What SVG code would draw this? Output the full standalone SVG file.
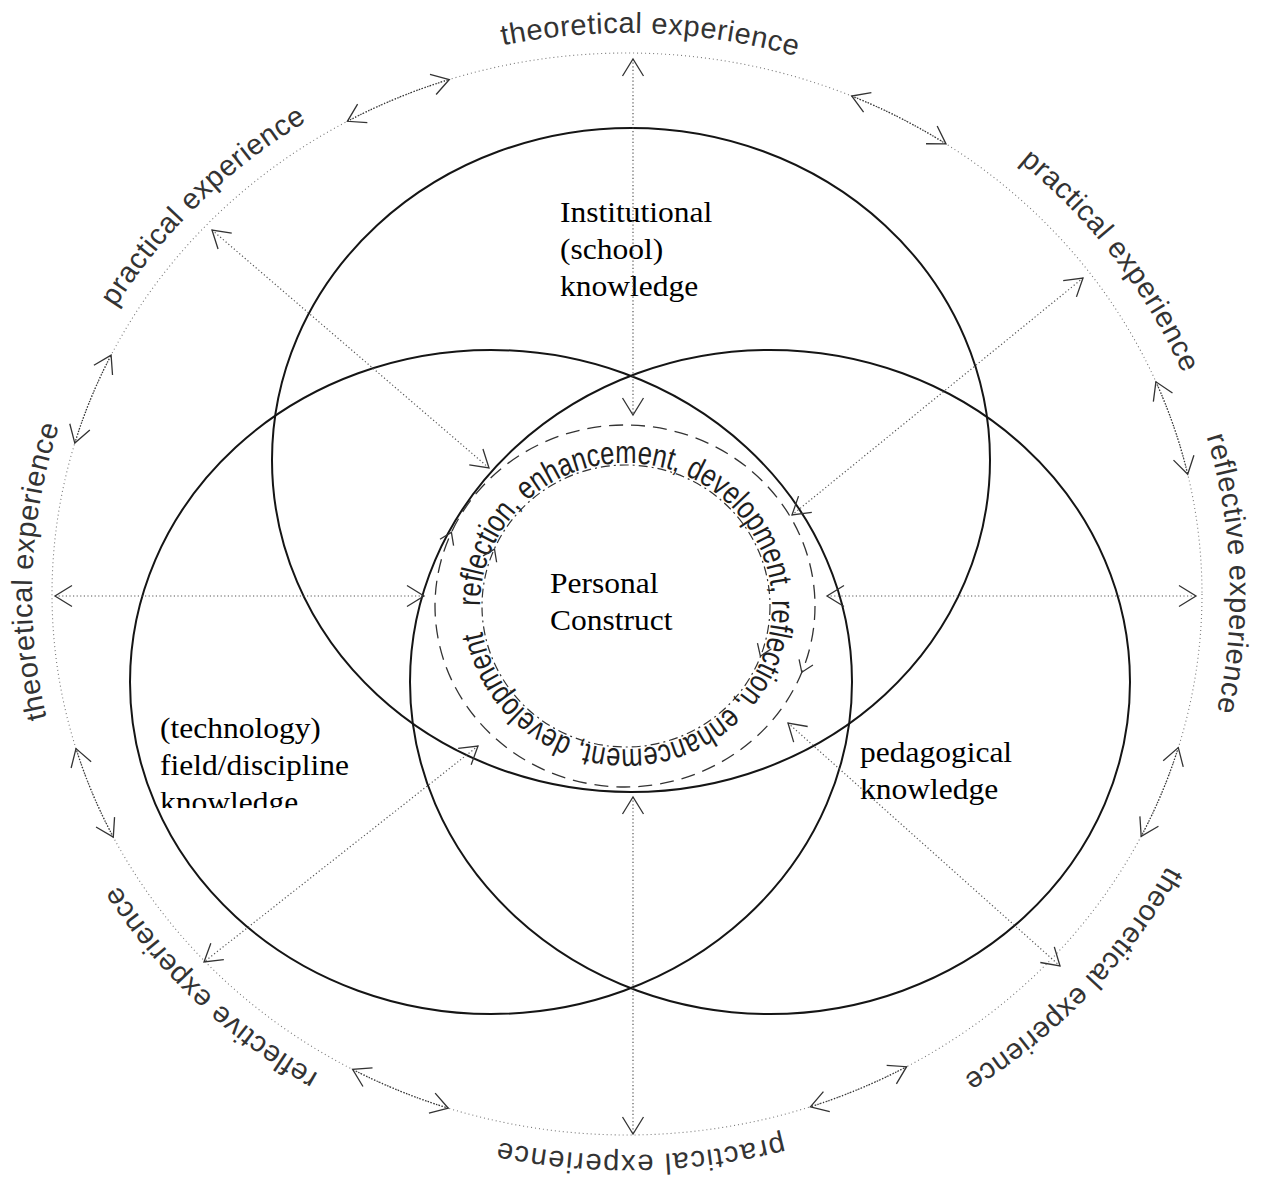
<svg xmlns="http://www.w3.org/2000/svg" width="1269" height="1183" viewBox="0 0 1269 1183">
<style>
.big{fill:none;stroke:#151515;stroke-width:2}
.outer{fill:none;stroke:#777;stroke-width:1.1;stroke-dasharray:1 3}
.conn{fill:none;stroke:#555;stroke-width:1.2;stroke-dasharray:1.2 2.4;marker-start:url(#chev);marker-end:url(#chev)}
.carc{fill:none;stroke:#333;stroke-width:1.3;stroke-dasharray:1.3 1.6;marker-start:url(#chev);marker-end:url(#chev)}
.dash{fill:none;stroke:#333;stroke-width:1.3;stroke-dasharray:14 8}
.dashdot{fill:none;stroke:#333;stroke-width:1.2;stroke-dasharray:9 4 2 4}
.rarrow{fill:none;stroke:none;marker-end:url(#chev2)}
.lab{font-family:"Liberation Sans",Arial,sans-serif;font-size:29px;fill:#333;letter-spacing:0.6px}
.ring{font-family:"Liberation Sans",Arial,sans-serif;font-size:32px;fill:#1e1e1e}
.serif{font-family:"Liberation Serif","Times New Roman",serif;font-size:31.5px;fill:#000}
</style>
<defs>
<marker id="chev" markerUnits="userSpaceOnUse" markerWidth="40" markerHeight="40" viewBox="-20 -20 40 40" refX="0" refY="0" orient="auto-start-reverse" overflow="visible">
<path d="M -17 -10.5 L 0 0 L -17 10.5" fill="none" stroke="#333" stroke-width="1.3"/>
</marker>
<marker id="chev2" markerUnits="userSpaceOnUse" markerWidth="30" markerHeight="30" viewBox="-15 -15 30 30" refX="0" refY="0" orient="auto" overflow="visible">
<path d="M -11 -7.5 L 0 0 L -11 7.5" fill="none" stroke="#333" stroke-width="1.3"/>
</marker>
<path id="lp1" d="M 263.2 150.1 A 595 561 0 0 1 1027.6 179.1"/>
<path id="lp2" d="M 778.0 43.1 A 603 569 0 0 1 1228.1 638.7"/>
<path id="lp3" d="M 1075.1 213.3 A 603 569 0 0 1 1102.2 944.3"/>
<path id="lp4" d="M 1238.7 612.1 A 612 578 0 0 1 714.3 1166.1"/>
<path id="lp5" d="M 1019.9 1015.3 A 595 561 0 0 1 255.0 1031.8"/>
<path id="lp6" d="M 568.9 1152.3 A 595 561 0 0 1 33.7 637.0"/>
<path id="lp7" d="M 156.2 937.1 A 595 561 0 0 1 186.9 216.4"/>
<path id="lp8" d="M 33.1 559.8 A 595 561 0 0 1 559.6 36.6"/>
<path id="ringpath" d="M 480 606 A 146 143 0 1 1 772 606 A 146 143 0 1 1 480 606"/>
<clipPath id="clipTech"><rect x="100" y="680" width="320" height="128"/></clipPath>
<clipPath id="clipPed"><rect x="820" y="700" width="300" height="105"/></clipPath>
</defs>

<rect x="0" y="0" width="1269" height="1183" fill="#fff"/>

<g id="outer-ring">
<ellipse class="outer" cx="627" cy="594" rx="575" ry="541"/>
<text class="lab"><textPath href="#lp1" startOffset="50%" text-anchor="middle">theoretical experience</textPath></text>
<text class="lab"><textPath href="#lp2" startOffset="50%" text-anchor="middle">practical experience</textPath></text>
<text class="lab"><textPath href="#lp3" startOffset="50%" text-anchor="middle">reflective experience</textPath></text>
<text class="lab"><textPath href="#lp4" startOffset="50%" text-anchor="middle">theoretical experience</textPath></text>
<text class="lab" style="letter-spacing:1.5px"><textPath href="#lp5" startOffset="50%" text-anchor="middle">practical experience</textPath></text>
<text class="lab"><textPath href="#lp6" startOffset="50%" text-anchor="middle">reflective experience</textPath></text>
<text class="lab"><textPath href="#lp7" startOffset="50%" text-anchor="middle">theoretical experience</textPath></text>
<text class="lab"><textPath href="#lp8" startOffset="50%" text-anchor="middle">practical experience</textPath></text>
</g>

<g id="node-institutional">
<ellipse class="big" cx="631" cy="460" rx="359" ry="332"/>
<g transform="translate(560,222) scale(1,0.92)">
<text class="serif"><tspan x="0" y="0">Institutional</tspan><tspan x="0" dy="40.2">(school)</tspan><tspan x="0" dy="40.2">knowledge</tspan></text>
</g>
</g>

<g id="node-technology">
<ellipse class="big" cx="491" cy="682" rx="361" ry="332"/>
<g clip-path="url(#clipTech)">
<g transform="translate(160,738) scale(1,0.92)">
<text class="serif"><tspan x="0" y="0">(technology)</tspan><tspan x="0" dy="40.2">field/discipline</tspan><tspan x="0" dy="40.2">knowledge</tspan></text>
</g>
</g>
</g>

<g id="node-pedagogical">
<ellipse class="big" cx="770" cy="682" rx="360" ry="332"/>
<g clip-path="url(#clipPed)">
<g transform="translate(860,762) scale(1,0.92)">
<text class="serif"><tspan x="0" y="0">pedagogical</tspan><tspan x="0" dy="40.2">knowledge</tspan></text>
</g>
</g>
</g>

<g id="node-personal">
<ellipse class="dash" cx="625" cy="606" rx="190" ry="181"/>
<ellipse class="dashdot" cx="626" cy="606" rx="144" ry="141"/>
<text class="ring"><textPath href="#ringpath" textLength="882" lengthAdjust="spacingAndGlyphs">reflection, enhancement, development, reflection, enhancement, development</textPath></text>
<path class="rarrow" d="M 445.4 547.1 A 190 181 0 0 1 451.4 532.4"/>
<path class="rarrow" d="M 807.2 657.4 A 190 181 0 0 1 801.8 672.3"/>
<path class="rarrow" d="M 489.8 560.4 A 144 141 0 0 1 494.5 549.1"/>
<path class="rarrow" d="M 764.4 644.6 A 144 141 0 0 1 760.4 656.2"/>
<g transform="translate(550,593) scale(1,0.92)">
<text class="serif"><tspan x="0" y="0">Personal</tspan><tspan x="0" dy="40.2">Construct</tspan></text>
</g>
</g>

<g id="connectors">
<path class="conn" d="M 633 59 L 633 415"/>
<path class="conn" d="M 633 797 L 633 1134"/>
<path class="conn" d="M 55 596 L 424 596"/>
<path class="conn" d="M 827 596 L 1196 596"/>
<path class="conn" d="M 212 230 L 489 468"/>
<path class="conn" d="M 1083 278 L 792 515"/>
<path class="conn" d="M 478 746 L 204 962"/>
<path class="conn" d="M 788 723 L 1060 966"/>
<path class="carc" d="M 347.4 121.3 A 575 541 0 0 1 449.3 79.5"/>
<path class="carc" d="M 851.7 96.0 A 575 541 0 0 1 946.0 143.9"/>
<path class="carc" d="M 1155.9 381.8 A 575 541 0 0 1 1187.7 474.2"/>
<path class="carc" d="M 1178.3 747.6 A 575 541 0 0 1 1141.2 836.3"/>
<path class="carc" d="M 906.6 1066.7 A 575 541 0 0 1 810.4 1106.8"/>
<path class="carc" d="M 448.3 1108.2 A 575 541 0 0 1 352.6 1069.4"/>
<path class="carc" d="M 113.3 837.1 A 575 541 0 0 1 76.0 748.6"/>
<path class="carc" d="M 74.8 443.1 A 575 541 0 0 1 111.1 355.1"/>
</g>
</svg>
